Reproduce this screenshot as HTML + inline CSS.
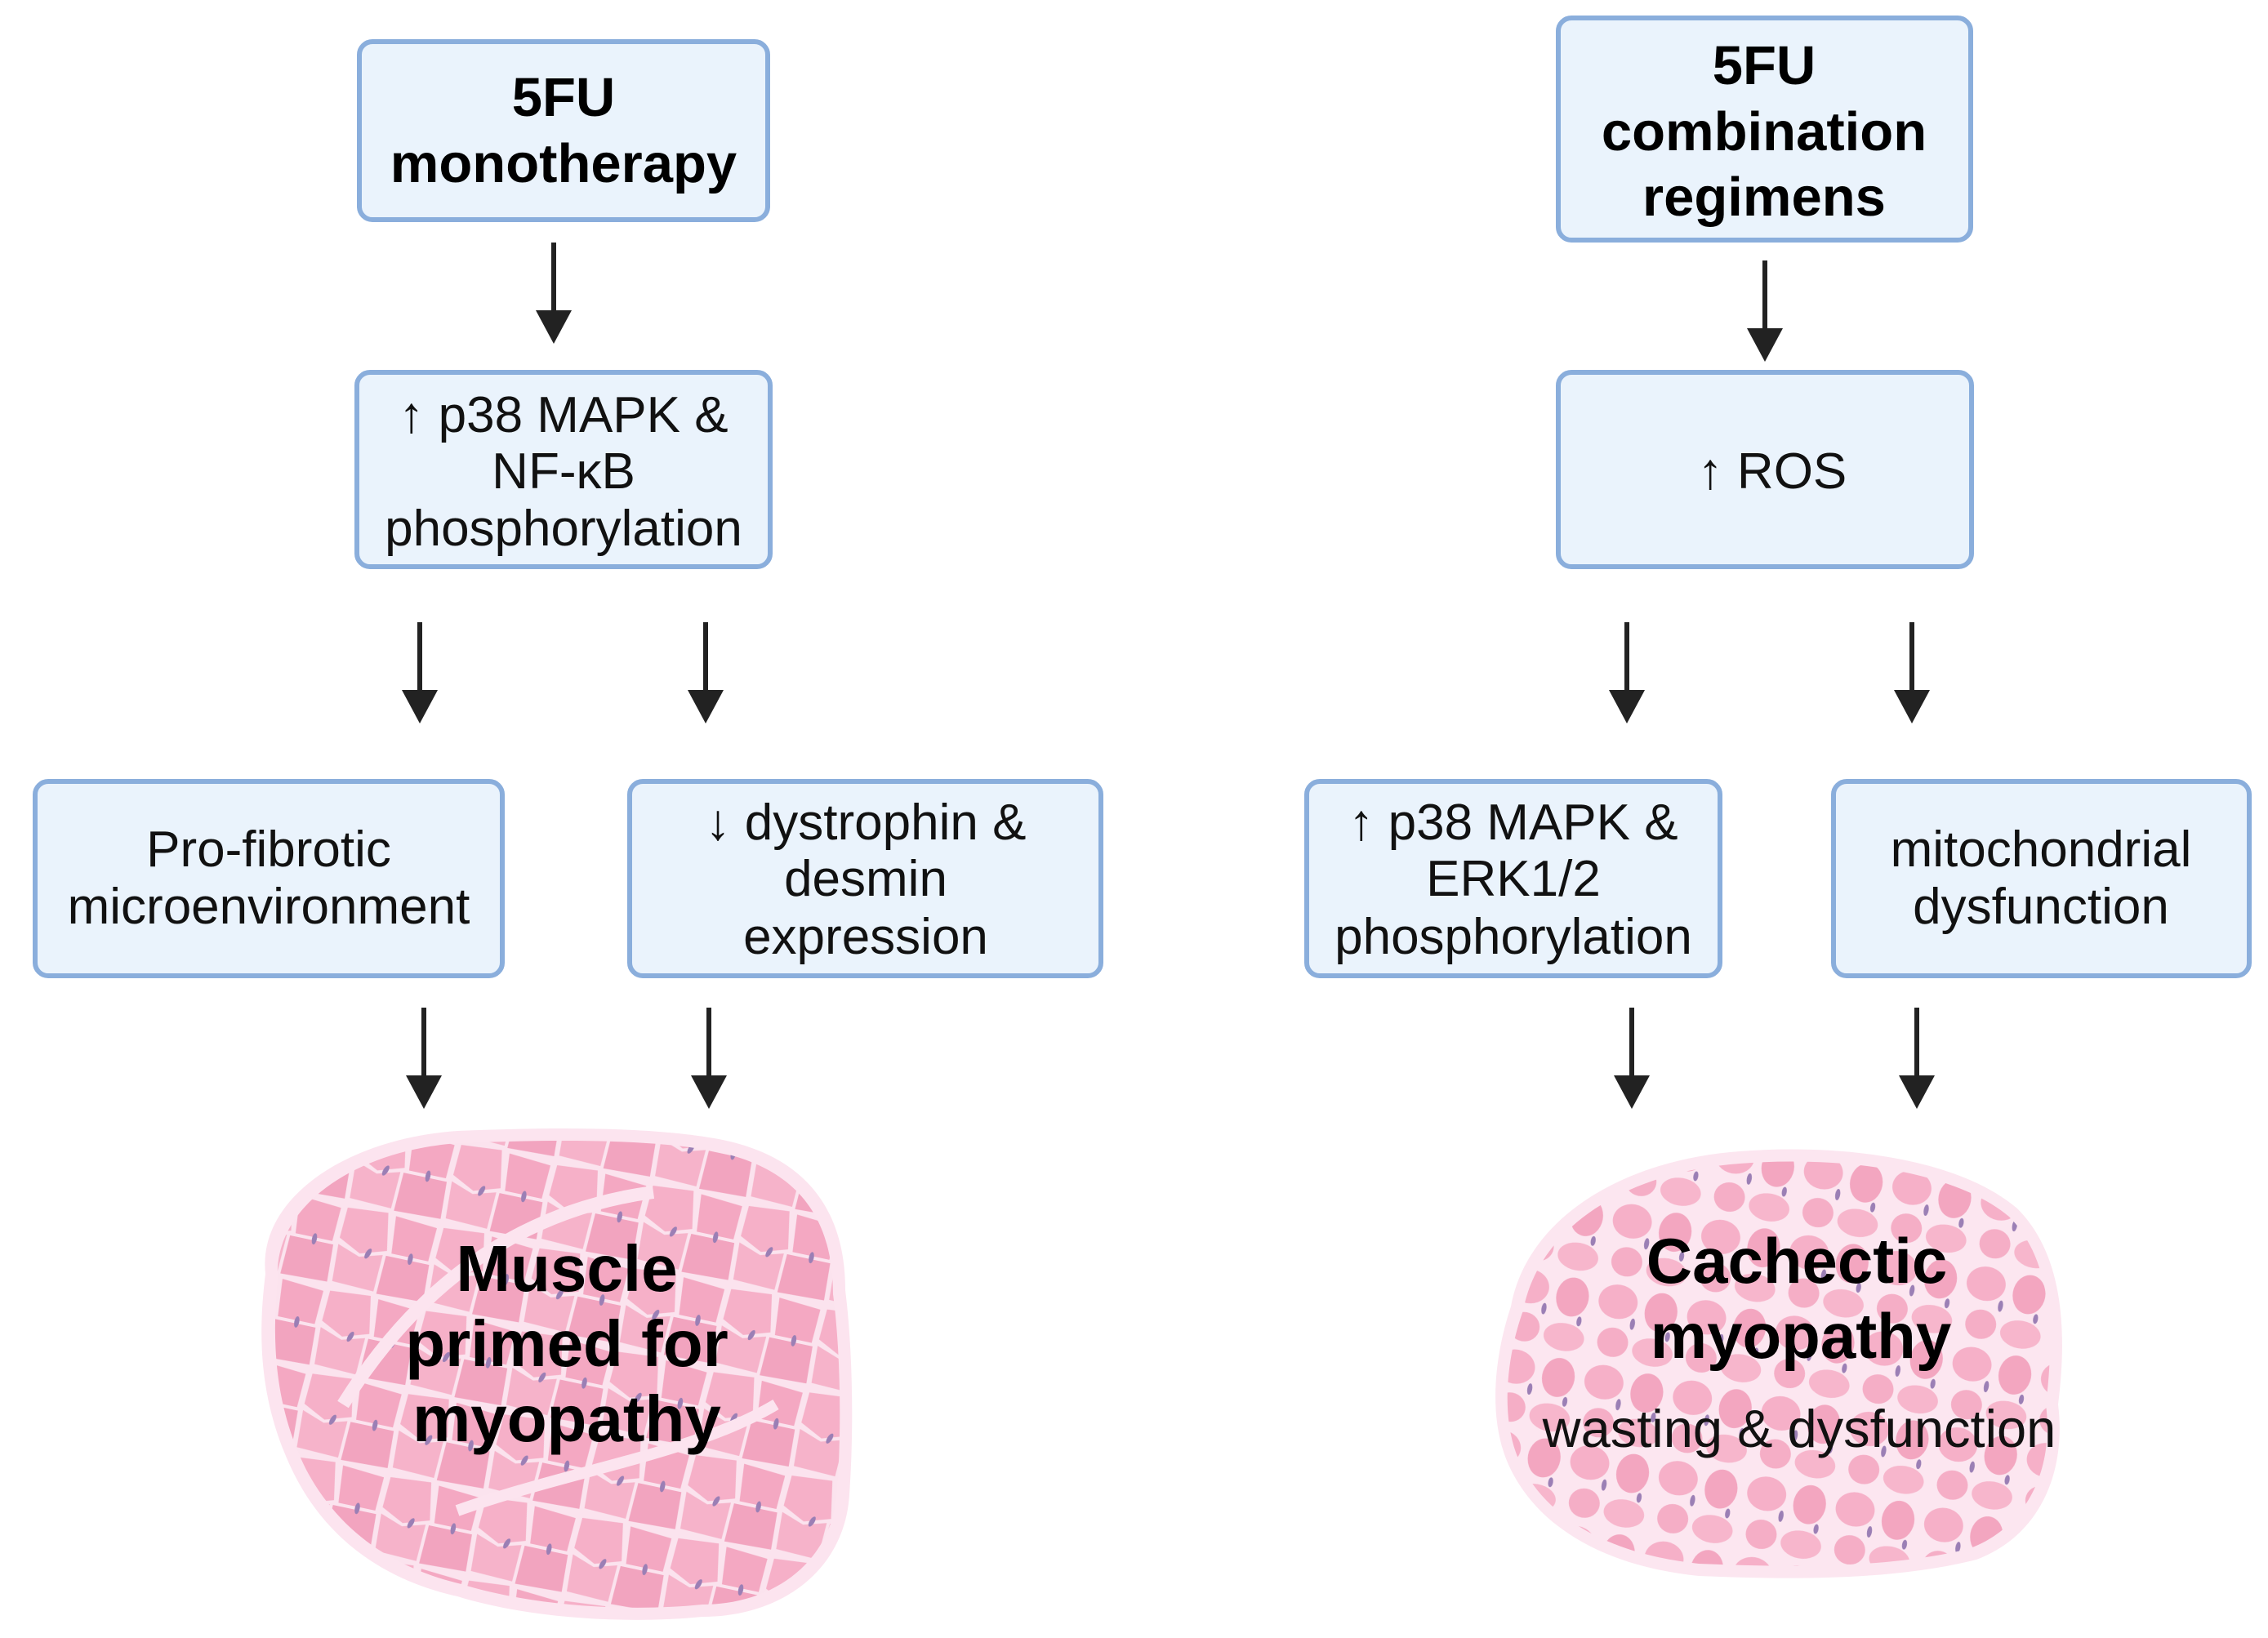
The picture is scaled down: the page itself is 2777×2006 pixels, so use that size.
<!DOCTYPE html>
<html><head><meta charset="utf-8"><style>
html,body{margin:0;padding:0;background:#fff;}
svg{display:block;}
.b{font-family:"Liberation Sans",Arial,sans-serif;font-weight:bold;font-size:67px;fill:#000;text-anchor:middle;}
.r{font-family:"Liberation Sans",Arial,sans-serif;font-size:62px;fill:#111;text-anchor:middle;}
.m{font-family:"Liberation Sans",Arial,sans-serif;font-weight:bold;font-size:80px;fill:#000;text-anchor:middle;}
</style></head><body>
<svg width="2777" height="2006" viewBox="0 0 2777 2006" xmlns="http://www.w3.org/2000/svg">
<defs>
<pattern id="hex" width="120" height="104" patternUnits="userSpaceOnUse" patternTransform="rotate(12)">
<rect width="120" height="104" fill="#fbe3ee"/>
<polygon points="4,6 54,2 62,48 30,58 2,44" fill="#f6b0c8"/>
<polygon points="64,4 116,8 114,50 68,50" fill="#f4a8c2"/>
<polygon points="2,52 30,62 58,54 56,100 4,98" fill="#f6b3ca"/>
<polygon points="62,54 116,54 118,100 60,102" fill="#f2a4bf"/>
<ellipse cx="40" cy="56" rx="3" ry="7" fill="#9b7fb5" transform="rotate(20 40 56)"/>
<ellipse cx="92" cy="52" rx="3" ry="7" fill="#9b7fb5"/>
</pattern>
<pattern id="circ" width="110" height="100" patternUnits="userSpaceOnUse" patternTransform="rotate(10)">
<rect width="110" height="100" fill="#fce6f0"/>
<ellipse cx="28" cy="26" rx="24" ry="21" fill="#f6b0c8"/>
<ellipse cx="82" cy="30" rx="20" ry="24" fill="#f3a6c0"/>
<ellipse cx="30" cy="76" rx="19" ry="18" fill="#f5aec6"/>
<ellipse cx="80" cy="80" rx="25" ry="17" fill="#f7b6cc"/>
<ellipse cx="50" cy="50" rx="3" ry="7" fill="#9b7fb5"/>
<ellipse cx="95" cy="58" rx="3" ry="6" fill="#9b7fb5"/>
</pattern>
</defs>

<g fill="#eaf3fc" stroke="#8aaedc" stroke-width="6">
<rect x="440" y="51" width="500" height="218" rx="16"/>
<rect x="437" y="456" width="506" height="238" rx="16"/>
<rect x="43" y="957" width="572" height="238" rx="16"/>
<rect x="771" y="957" width="577" height="238" rx="16"/>
<rect x="1908" y="22" width="505" height="272" rx="16"/>
<rect x="1908" y="456" width="506" height="238" rx="16"/>
<rect x="1600" y="957" width="506" height="238" rx="16"/>
<rect x="2245" y="957" width="509" height="238" rx="16"/>
</g>

<g stroke="#222" stroke-width="6">
<line x1="678" y1="297" x2="678" y2="385"/>
<line x1="514" y1="762" x2="514" y2="850"/>
<line x1="864" y1="762" x2="864" y2="850"/>
<line x1="519" y1="1234" x2="519" y2="1322"/>
<line x1="868" y1="1234" x2="868" y2="1322"/>
<line x1="2161" y1="319" x2="2161" y2="407"/>
<line x1="1992" y1="762" x2="1992" y2="850"/>
<line x1="2341" y1="762" x2="2341" y2="850"/>
<line x1="1998" y1="1234" x2="1998" y2="1322"/>
<line x1="2347" y1="1234" x2="2347" y2="1322"/>
</g>
<g fill="#222">
<polygon points="656,380 700,380 678,421"/>
<polygon points="492,845 536,845 514,886"/>
<polygon points="842,845 886,845 864,886"/>
<polygon points="497,1317 541,1317 519,1358"/>
<polygon points="846,1317 890,1317 868,1358"/>
<polygon points="2139,402 2183,402 2161,443"/>
<polygon points="1970,845 2014,845 1992,886"/>
<polygon points="2319,845 2363,845 2341,886"/>
<polygon points="1976,1317 2020,1317 1998,1358"/>
<polygon points="2325,1317 2369,1317 2347,1358"/>
</g>

<text class="b" x="690" y="142">5FU</text>
<text class="b" x="690" y="223">monotherapy</text>
<text class="r" x="690" y="529">↑ p38 MAPK &amp;</text>
<text class="r" x="690" y="598">NF-κB</text>
<text class="r" x="690" y="668">phosphorylation</text>
<text class="r" x="329" y="1061">Pro-fibrotic</text>
<text class="r" x="329" y="1131">microenvironment</text>
<text class="r" x="1060" y="1028">↓ dystrophin &amp;</text>
<text class="r" x="1060" y="1097">desmin</text>
<text class="r" x="1060" y="1168">expression</text>
<text class="b" x="2160" y="103">5FU</text>
<text class="b" x="2160" y="184">combination</text>
<text class="b" x="2160" y="264">regimens</text>
<text class="r" x="2170" y="598">↑ ROS</text>
<text class="r" x="1853" y="1028">↑ p38 MAPK &amp;</text>
<text class="r" x="1853" y="1097">ERK1/2</text>
<text class="r" x="1853" y="1168">phosphorylation</text>
<text class="r" x="2499" y="1061">mitochondrial</text>
<text class="r" x="2499" y="1131">dysfunction</text>

<!-- left muscle -->
<path d="M325,1560 C315,1470 420,1395 560,1385 C680,1380 800,1380 880,1395 C985,1415 1035,1480 1035,1580 C1045,1660 1045,1760 1040,1830 C1035,1920 960,1980 860,1980 C760,1990 640,1980 560,1955 C470,1935 400,1885 360,1805 C318,1720 315,1640 325,1560 Z" fill="#fce4ef"/>
<path d="M340,1565 C335,1480 430,1410 560,1400 C680,1395 800,1395 875,1410 C975,1430 1020,1490 1020,1585 C1030,1660 1030,1760 1025,1825 C1020,1910 950,1965 860,1965 C760,1975 645,1965 565,1940 C480,1920 415,1875 375,1800 C335,1720 333,1640 340,1565 Z" fill="url(#hex)"/>
<path d="M420,1720 C520,1560 650,1480 800,1460" stroke="#fce4ef" stroke-width="16" fill="none"/>
<path d="M560,1850 C700,1800 850,1780 950,1720" stroke="#fce4ef" stroke-width="14" fill="none"/>
<text class="m" x="694" y="1581">Muscle</text>
<text class="m" x="694" y="1673">primed for</text>
<text class="m" x="694" y="1765">myopathy</text>

<!-- right muscle -->
<path d="M1850,1600 C1870,1490 1990,1420 2130,1410 C2260,1400 2400,1420 2470,1480 C2530,1540 2530,1640 2520,1720 C2530,1800 2500,1880 2420,1910 C2320,1935 2200,1935 2080,1930 C1980,1920 1890,1880 1850,1800 C1820,1740 1830,1660 1850,1600 Z" fill="#fce6f0"/>
<path d="M1865,1605 C1885,1500 1995,1435 2130,1425 C2260,1415 2395,1435 2460,1490 C2515,1545 2515,1640 2505,1720 C2515,1795 2485,1870 2410,1897 C2315,1920 2200,1920 2080,1915 C1985,1905 1900,1868 1863,1795 C1835,1740 1845,1660 1865,1605 Z" fill="url(#circ)"/>
<text class="m" x="2200" y="1571" style="font-size:78px">Cachectic</text>
<text class="m" x="2205" y="1663" style="font-size:78px">myopathy</text>
<text class="r" x="2203" y="1772" style="font-size:65px">wasting &amp; dysfunction</text>
</svg>
</body></html>
